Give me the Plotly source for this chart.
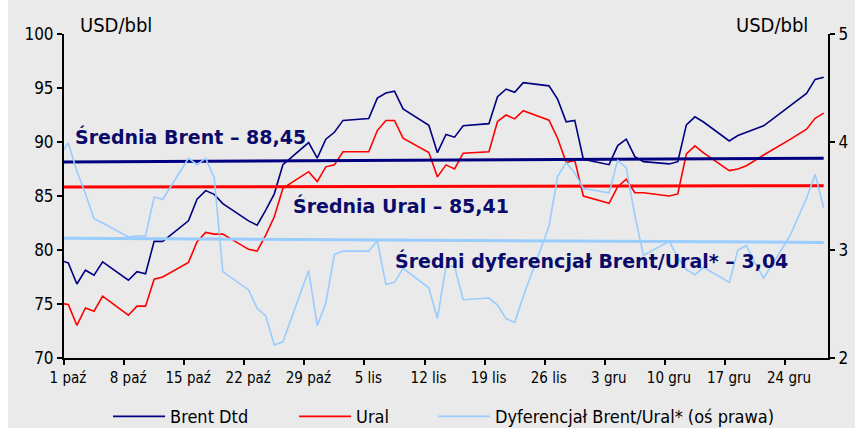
import pandas as pd
import plotly.graph_objects as go

# ---- data ----
dates = [
    "2007-09-28",
    "2007-10-01", "2007-10-02", "2007-10-03", "2007-10-04", "2007-10-05",
    "2007-10-08", "2007-10-09", "2007-10-10", "2007-10-11", "2007-10-12",
    "2007-10-15", "2007-10-16", "2007-10-17", "2007-10-18", "2007-10-19",
    "2007-10-22", "2007-10-23", "2007-10-24", "2007-10-25", "2007-10-26",
    "2007-10-29", "2007-10-30", "2007-10-31", "2007-11-01", "2007-11-02",
    "2007-11-05", "2007-11-06", "2007-11-07", "2007-11-08", "2007-11-09",
    "2007-11-12", "2007-11-13", "2007-11-14", "2007-11-15", "2007-11-16",
    "2007-11-19", "2007-11-20", "2007-11-21", "2007-11-22", "2007-11-23",
    "2007-11-26", "2007-11-27", "2007-11-28", "2007-11-29", "2007-11-30",
    "2007-12-03", "2007-12-04", "2007-12-05", "2007-12-06", "2007-12-07",
    "2007-12-10", "2007-12-11", "2007-12-12", "2007-12-13", "2007-12-14",
    "2007-12-17", "2007-12-18", "2007-12-19", "2007-12-20", "2007-12-21",
    "2007-12-24", "2007-12-26", "2007-12-27", "2007-12-28",
]

brent = [
    79.6,
    78.8, 76.85, 78.13, 77.67, 78.9,
    77.2, 78.0, 77.8, 80.8, 80.8,
    82.7, 84.7, 85.5, 85.15, 84.3,
    82.7, 82.3, 83.7, 85.2, 87.9,
    89.95, 88.5, 90.26, 90.9, 92.0,
    92.17, 94.06, 94.53, 94.7, 93.07,
    91.55, 89.01, 90.7, 90.45, 91.5,
    91.7, 94.2, 94.9, 94.6, 95.5,
    95.2, 93.97, 91.87, 92.0, 88.4,
    87.9, 89.67, 90.26, 88.65, 88.18,
    87.97, 88.18, 91.59, 92.33, 91.85,
    90.1, 90.6, 90.9, 91.2, 91.5,
    93.3, 94.5, 95.8, 96.0,
]

ural = [
    75.3,
    74.95, 73.03, 74.64, 74.33, 75.72,
    73.96, 74.8, 74.8, 77.3, 77.5,
    78.85, 80.76, 81.63, 81.47, 81.47,
    80.06, 79.9, 81.38, 83.08, 85.71,
    87.25, 86.33, 87.7, 87.88, 89.1,
    89.1, 91.06, 91.99, 91.99, 90.35,
    89.02, 86.77, 87.88, 87.5, 88.96,
    89.1, 91.9, 92.5, 92.14, 92.9,
    92.02, 90.35, 88.1, 88.3, 85.0,
    84.32, 85.86, 86.55, 85.3, 85.3,
    85.0, 85.19, 88.9, 89.64, 89.0,
    87.35, 87.5, 87.8, 88.3, 88.8,
    90.2, 91.19, 92.2, 92.67,
]

spread = [
    3.65,
    3.99, 3.73, 3.52, 3.29, 3.25,
    3.12, 3.13, 3.13, 3.49, 3.47,
    3.85, 3.79, 3.85, 3.67, 2.80,
    2.63, 2.46, 2.39, 2.12, 2.15,
    2.81, 2.30, 2.51, 2.96, 2.99,
    2.99, 3.085, 2.68, 2.70, 2.83,
    2.65, 2.365, 2.85, 2.85, 2.54,
    2.555, 2.49, 2.365, 2.33, 2.57,
    3.22, 3.68, 3.81, 3.71, 3.57,
    3.53, 3.83, 3.76, 3.32, 2.95,
    3.08, 2.93, 2.82, 2.77, 2.84,
    2.70, 3.00, 3.04, 2.88, 2.74,
    3.12, 3.48, 3.70, 3.39,
]

# average lines as drawn (start / end level)
brent_avg_line = [88.13, 88.50]
ural_avg_line = [85.83, 85.96]
spread_avg_line = [3.11, 3.07]

tick_dates = ["2007-10-01", "2007-10-08", "2007-10-15", "2007-10-22", "2007-10-29",
              "2007-11-05", "2007-11-12", "2007-11-19", "2007-11-26",
              "2007-12-03", "2007-12-10", "2007-12-17", "2007-12-24"]
tick_labels = ["1 paź", "8 paź", "15 paź", "22 paź", "29 paź",
               "5 lis", "12 lis", "19 lis", "26 lis",
               "3 gru", "10 gru", "17 gru", "24 gru"]

x_range = ["2007-10-01", "2007-12-29"]

series_names = ["Brent Dtd", "Ural", "Dyferencjał Brent/Ural* (oś prawa)"]
label_brent = "Średnia Brent – 88,45"
label_ural = "Średnia Ural – 85,41"
label_spread = "Średni dyferencjał Brent/Ural* – 3,04"

# ---- figure ----
FONT = "DejaVu Sans Condensed, DejaVu Sans, Liberation Sans, sans-serif"
NAVY = "#000080"
RED = "#FF0000"
LBLUE = "#99CCFF"
TXT = "#0A0A6A"
BG = "#EAEAEA"

x = pd.to_datetime(dates) + pd.Timedelta(hours=12)
x_avg = [x[0], x[-1]]

fig = go.Figure()
fig.add_trace(go.Scatter(x=x, y=brent, mode="lines", name=series_names[0],
                         line=dict(color=NAVY, width=1.6), legend="legend"))
fig.add_trace(go.Scatter(x=x, y=ural, mode="lines", name=series_names[1],
                         line=dict(color=RED, width=1.6), legend="legend2"))
fig.add_trace(go.Scatter(x=x, y=spread, mode="lines", name=series_names[2],
                         line=dict(color=LBLUE, width=1.6), yaxis="y2", legend="legend3"))
fig.add_trace(go.Scatter(x=x_avg, y=brent_avg_line, mode="lines", showlegend=False,
                         line=dict(color=NAVY, width=3)))
fig.add_trace(go.Scatter(x=x_avg, y=ural_avg_line, mode="lines", showlegend=False,
                         line=dict(color=RED, width=3)))
fig.add_trace(go.Scatter(x=x_avg, y=spread_avg_line, mode="lines", showlegend=False,
                         line=dict(color=LBLUE, width=3), yaxis="y2"))

legend_common = dict(orientation="h", xref="container", yref="container",
                     yanchor="middle", y=0.0264, xanchor="left",
                     bgcolor="rgba(0,0,0,0)", font=dict(family=FONT, size=18, color="#000000"),
                     itemwidth=52)

fig.update_layout(
    width=847, height=428,
    margin=dict(l=56, r=27, t=34, b=70, autoexpand=False),
    paper_bgcolor=BG, plot_bgcolor=BG,
    font=dict(family=FONT, color="#000000"),
    xaxis=dict(type="date", range=x_range, tickvals=tick_dates, ticktext=tick_labels,
               ticks="outside", ticklen=5, tickwidth=1.5, tickcolor="#000000",
               showline=True, linecolor="#000000", linewidth=2,
               showgrid=False, zeroline=False, tickfont=dict(size=15),
               ticklabelshift=4, automargin=False),
    yaxis=dict(range=[70, 100], dtick=5, ticks="outside", ticklen=5, tickwidth=1.5,
               tickcolor="#000000", showline=True, linecolor="#000000", linewidth=2,
               showgrid=False, zeroline=False, tickfont=dict(size=17), automargin=False),
    yaxis2=dict(range=[2, 5], dtick=1, overlaying="y", side="right", ticks="outside",
                ticklen=5, tickwidth=1.5, tickcolor="#000000", showline=True,
                linecolor="#000000", linewidth=2, showgrid=False, zeroline=False,
                tickfont=dict(size=17), automargin=False),
    legend=dict(x=0.1181, **legend_common),
    legend2=dict(x=0.3377, **legend_common),
    legend3=dict(x=0.5018, **legend_common),
    showlegend=True,
)

ann_font = dict(family="DejaVu Sans, sans-serif", size=19, color=TXT, weight="bold")
fig.add_annotation(text=label_brent, xref="paper", yref="paper", x=0.0118, y=0.683,
                   xanchor="left", yanchor="middle", showarrow=False, font=ann_font)
fig.add_annotation(text=label_ural, xref="paper", yref="paper", x=0.2976, y=0.472,
                   xanchor="left", yanchor="middle", showarrow=False, font=ann_font)
fig.add_annotation(text=label_spread, xref="paper", yref="paper", x=0.4302, y=0.302,
                   xanchor="left", yanchor="middle", showarrow=False, font=ann_font)

fig.add_annotation(text="USD/bbl", xref="paper", yref="paper", x=0.0187, y=1.028,
                   xanchor="left", yanchor="middle", showarrow=False,
                   font=dict(family=FONT, size=20, color="#000000"))
fig.add_annotation(text="USD/bbl", xref="paper", yref="paper", x=0.976, y=1.028,
                   xanchor="right", yanchor="middle", showarrow=False,
                   font=dict(family=FONT, size=20, color="#000000"))

# page: white 8px strip on the left only (as in the reference), no top gap
fig.write_html("out.html", post_script="document.body.style.margin='0 0 0 8px';")
